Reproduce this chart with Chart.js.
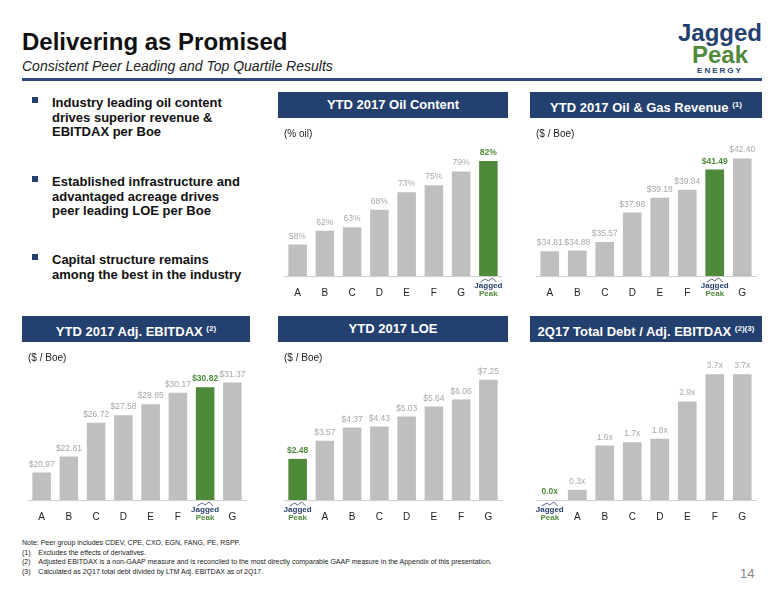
<!DOCTYPE html>
<html>
<head>
<meta charset="utf-8">
<script src="https://cdn.jsdelivr.net/npm/chart.js@4"></script>
<style>
  body { margin: 0; width: 776px; height: 600px; position: relative; font-family: "Liberation Sans", Arial, sans-serif; background: #fff; overflow: hidden; }
  .abs { position: absolute; }
  h1 { position: absolute; left: 22px; top: 28px; margin: 0; font-size: 24px; font-weight: bold; color: #111; }
  .sub { left: 22px; top: 58px; font-size: 14px; font-style: italic; color: #222; }
  .rule { left: 22px; top: 78px; width: 740px; height: 3px; background: #2b4a7a; }
  .hdr { background: #24406f; color: #fff; font-weight: bold; font-size: 13px; text-align: center; line-height: 26px; height: 26px; }
  .hdr sup { font-size: 8px; }
  .bul { left: 32px; font-size: 13px; font-weight: bold; color: #111; line-height: 14.5px; width: 250px; white-space: nowrap; }
  .bul span { position: absolute; left: 0; top: 1px; width: 6px; height: 6px; background: #24406f; }
  .bul div { margin-left: 20px; }
  .logo { right: 14px; top: 8px; text-align: center; font-weight: bold; line-height: 22px; }
  .notes { left: 22px; top: 538px; font-size: 7px; color: #222; line-height: 9.5px; }
  canvas { position: absolute; }
</style>
</head>
<body>
<h1>Delivering as Promised</h1>
<div class="abs sub">Consistent Peer Leading and Top Quartile Results</div>
<div class="abs rule"></div>
<div class="abs logo">
  <div style="font-size:24px;color:#24406f;margin-top:14px">Jagged</div>
  <div style="font-size:24px;color:#4e8a3a">Peak</div>
  <div style="font-size:8px;color:#24406f;letter-spacing:2px;line-height:10px">ENERGY</div>
</div>

<div class="abs bul" style="top:96px"><span></span><div>Industry leading oil content<br>drives superior revenue &amp;<br>EBITDAX per Boe</div></div>
<div class="abs bul" style="top:175px"><span></span><div>Established infrastructure and<br>advantaged acreage drives<br>peer leading LOE per Boe</div></div>
<div class="abs bul" style="top:253px"><span></span><div>Capital structure remains<br>among the best in the industry</div></div>

<div class="abs hdr" style="left:278px;top:92px;width:230px">YTD 2017 Oil Content</div>
<div class="abs hdr" style="left:530px;top:92px;width:232px">YTD 2017 Oil &amp; Gas Revenue <sup>(1)</sup></div>
<div class="abs hdr" style="left:22px;top:316px;width:228px">YTD 2017 Adj. EBITDAX <sup>(2)</sup></div>
<div class="abs hdr" style="left:278px;top:316px;width:230px">YTD 2017 LOE</div>
<div class="abs hdr" style="left:530px;top:316px;width:232px">2Q17 Total Debt / Adj. EBITDAX <sup>(2)(3)</sup></div>

<canvas id="c1" style="left:280px;top:128px;width:226px;height:174px"></canvas>
<canvas id="c2" style="left:532px;top:128px;width:228px;height:174px"></canvas>
<canvas id="c3" style="left:24px;top:352px;width:226px;height:174px"></canvas>
<canvas id="c4" style="left:280px;top:352px;width:226px;height:174px"></canvas>
<canvas id="c5" style="left:532px;top:352px;width:228px;height:174px"></canvas>

<div class="abs notes">
Note: Peer group includes CDEV, CPE, CXO, EGN, FANG, PE, RSPP.<br>
(1)&nbsp;&nbsp;&nbsp;&nbsp;Excludes the effects of derivatives.<br>
(2)&nbsp;&nbsp;&nbsp;&nbsp;Adjusted EBITDAX is a non-GAAP measure and is reconciled to the most directly comparable GAAP measure in the Appendix of this presentation.<br>
(3)&nbsp;&nbsp;&nbsp;&nbsp;Calculated as 2Q17 total debt divided by LTM Adj. EBITDAX as of 2Q17.
</div>
<div class="abs" style="left:740px;top:566px;font-size:13px;color:#888">14</div>

<script>
'use strict';

// Data
const JP = 'JP';
let oilCats = ['A', 'B', 'C', 'D', 'E', 'F', 'G', JP];
let oilValues = [58, 62, 63, 68, 73, 75, 79, 82];

let revCats = ['A', 'B', 'C', 'D', 'E', 'F', JP, 'G'];
let revValues = [34.81, 34.88, 35.57, 37.98, 39.18, 39.84, 41.49, 42.40];

let ebitdaxCats = ['A', 'B', 'C', 'D', 'E', 'F', JP, 'G'];
let ebitdaxValues = [20.97, 22.81, 26.72, 27.58, 28.85, 30.17, 30.82, 31.37];

let loeCats = [JP, 'A', 'B', 'C', 'D', 'E', 'F', 'G'];
let loeValues = [2.48, 3.57, 4.37, 4.43, 5.03, 5.64, 6.06, 7.25];

let debtCats = [JP, 'A', 'B', 'C', 'D', 'E', 'F', 'G'];
let debtValues = [0.0, 0.3, 1.6, 1.7, 1.8, 2.9, 3.7, 3.7];

const GRAY = '#bfbfbf';
const GREEN = '#4e8a3a';

// value labels above bars
const valueLabels = {
  id: 'valueLabels',
  afterDatasetsDraw(chart) {
    let ctx = chart.ctx;
    let ds = chart.data.datasets[0];
    let meta = chart.getDatasetMeta(0);
    ctx.save();
    ctx.textAlign = 'center';
    ctx.textBaseline = 'bottom';
    meta.data.forEach((bar, i) => {
      let isJP = chart.data.labels[i] === JP;
      ctx.font = (isJP ? 'bold ' : '') + '8.5px "Liberation Sans", Arial';
      ctx.fillStyle = isJP ? GREEN : '#a8a8a8';
      ctx.fillText(ds.fmt(ds.data[i]), bar.x, bar.y - 4);
    });
    ctx.restore();
  }
};

// small logo instead of JP tick
const jpTick = {
  id: 'jpTick',
  afterDraw(chart) {
    let ctx = chart.ctx;
    let x = chart.scales.x;
    let i = chart.data.labels.indexOf(JP);
    let px = x.getPixelForValue(i);
    let top = x.top + 4;
    ctx.save();
    ctx.textAlign = 'center';
    ctx.textBaseline = 'top';
    ctx.font = 'bold 8px "Liberation Sans", Arial';
    ctx.fillStyle = '#24406f';
    ctx.fillText('Jagged', px, top + 2);
    ctx.fillStyle = GREEN;
    ctx.fillText('Peak', px, top + 10);
    ctx.strokeStyle = '#24406f';
    ctx.lineWidth = 0.8;
    ctx.beginPath();
    ctx.moveTo(px - 8, top + 2); ctx.lineTo(px - 3, top - 1); ctx.lineTo(px, top + 1); ctx.lineTo(px + 4, top - 2); ctx.lineTo(px + 8, top + 2);
    ctx.stroke();
    ctx.restore();
  }
};

function makeChart(id, cats, values, fmt, yMin, yMax, unit) {
  return new Chart(document.getElementById(id), {
    type: 'bar',
    data: {
      labels: cats,
      datasets: [{
        data: values,
        fmt: fmt,
        backgroundColor: cats.map(c => c === JP ? GREEN : GRAY),
        barPercentage: 0.68,
        categoryPercentage: 1.0
      }]
    },
    options: {
      responsive: false,
      animation: false,
      layout: { padding: { left: 4, right: 4 } },
      plugins: {
        legend: { display: false },
        tooltip: { enabled: false },
        title: {
          display: true, text: unit, align: 'start',
          color: '#222', font: { size: 10, family: '"Liberation Sans", Arial', weight: 'normal' },
          padding: { top: 0, bottom: 0 }
        }
      },
      scales: {
        x: {
          grid: { display: false },
          border: { color: '#d0d0d0' },
          ticks: {
            color: '#222', font: { size: 10 },
            callback: function (v) { let l = this.getLabelForValue(v); return l === JP ? '' : l; }
          }
        },
        y: { display: false, min: yMin, max: yMax }
      }
    },
    plugins: [valueLabels, jpTick]
  });
}

function sizeCanvas(id) {
  let c = document.getElementById(id);
  c.width = parseInt(c.style.width);
  c.height = parseInt(c.style.height);
}
['c1', 'c2', 'c3', 'c4', 'c5'].forEach(sizeCanvas);

makeChart('c1', oilCats, oilValues, v => v + '%', 49, 88, '(% oil)');
makeChart('c2', revCats, revValues, v => '$' + v.toFixed(2), 32.8, 43.9, '($ / Boe)');
makeChart('c3', ebitdaxCats, ebitdaxValues, v => '$' + v.toFixed(2), 17.8, 33.5, '($ / Boe)');
makeChart('c4', loeCats, loeValues, v => '$' + v.toFixed(2), 0, 8.2, '($ / Boe)');
makeChart('c5', debtCats, debtValues, v => v.toFixed(1) + 'x', 0, 4.0, ' ');
</script>
</body>
</html>
